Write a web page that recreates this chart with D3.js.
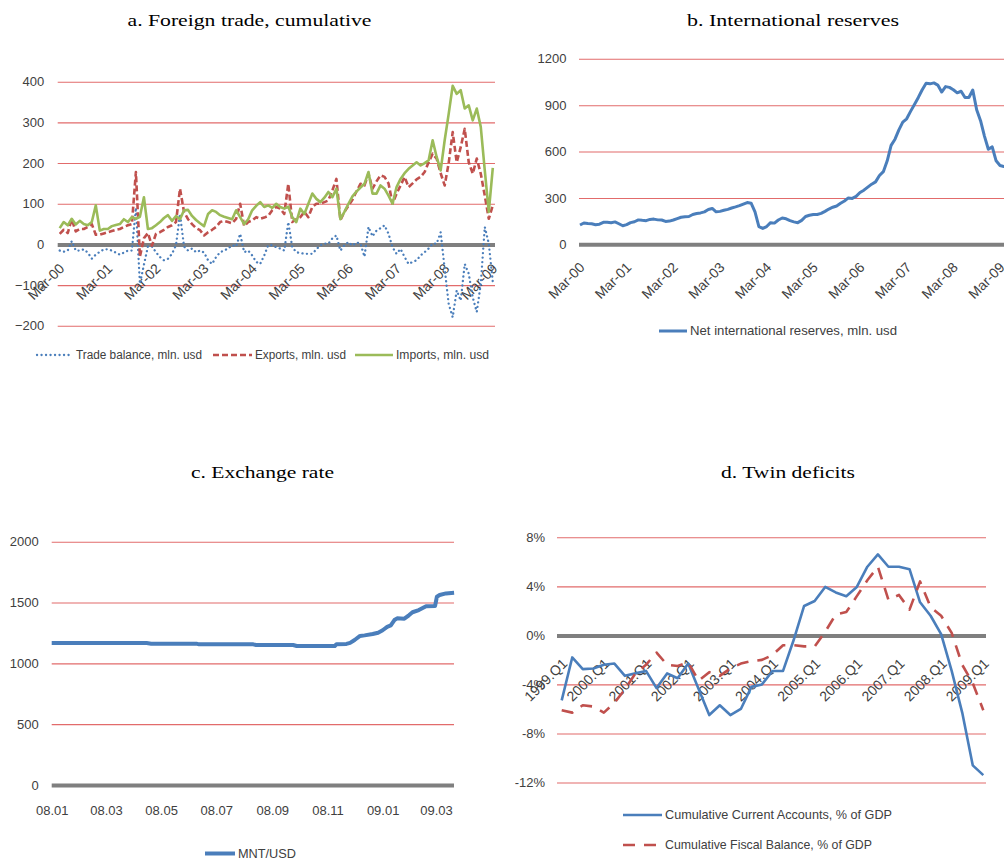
<!DOCTYPE html>
<html>
<head>
<meta charset="utf-8">
<script src="https://cdn.jsdelivr.net/npm/d3@7"></script>
<style>
  html, body { margin: 0; padding: 0; background: #ffffff; }
  svg { display: block; }
</style>
</head>
<body>
<script>
// ---------- data ----------
// a. Foreign trade, monthly Mar-2000 .. Mar-2009 (mln. usd)
const tradeTickLabels = ["Mar-00","Mar-01","Mar-02","Mar-03","Mar-04","Mar-05","Mar-06","Mar-07","Mar-08","Mar-09"];
const tradeBalance = [-15,-18,-15,8,-15,-15,-12,-20,-35,-25,
  -18,-12,-12,-15,-20,-25,-20,-15,-15,90,
  -97,-50,-5,-5,-19,-31,-39,-35,-23,-2,
  75,-5,-15,-10,-19,-15,-20,-39,-48,-31,
  -19,-15,-10,-2,-5,26,-19,-15,-27,-43,
  -48,-27,-2,-2,-7,-10,-15,55,-7,-19,
  -21,-23,-23,-23,-12,-2,2,2,15,22,
  -15,-2,6,-3,5,2,-30,43,20,34,
  40,47,26,-7,-23,-11,-31,-48,-43,-39,
  -27,-19,-10,2,2,30,-60,-146,-179,-113,
  -138,-48,-72,-130,-166,-97,43,2,-92];
const tradeExports = [26,36,28,62,32,38,38,43,50,24,
  24,27,30,33,36,38,43,47,50,178,
  -30,15,28,-3,26,30,36,43,47,55,
  137,80,62,50,40,35,22,30,36,43,
  55,58,55,52,63,100,45,55,59,67,
  63,66,70,84,92,88,75,149,55,62,
  67,80,67,92,100,100,104,108,133,161,
  60,80,95,110,130,149,145,174,137,155,
  170,166,150,100,125,145,166,141,150,160,
  166,178,202,223,211,175,145,200,276,202,
  239,284,202,174,211,174,120,63,96];
const tradeImports = [40,55,47,63,49,58,50,47,55,96,
  34,38,38,45,48,50,62,55,67,63,
  68,116,38,40,47,55,65,72,58,70,
  62,84,85,70,60,52,45,75,84,80,
  72,68,65,62,84,67,50,62,84,95,
  104,92,96,90,100,92,88,93,67,55,
  88,75,100,125,112,104,115,129,116,137,
  62,80,100,118,130,140,149,178,125,125,
  145,137,120,100,141,161,175,186,194,202,
  194,200,207,256,215,182,256,321,390,370,
  379,334,342,305,334,289,182,80,188];

// b. Net international reserves, monthly from Mar-2000 (mln. usd)
const reserves = [125,138,135,133,127,130,142,143,140,145,
  133,120,127,140,146,158,155,153,161,163,
  158,157,148,150,157,166,175,178,180,193,
  199,203,210,225,232,210,213,220,226,235,
  242,250,260,270,266,210,115,103,115,140,
  137,157,170,165,153,145,140,155,180,188,
  193,193,200,213,228,240,248,265,280,300,
  297,310,335,350,370,389,404,445,470,540,
  640,680,740,790,812,860,905,950,1000,1042,
  1038,1044,1030,985,1020,1015,1000,980,990,950,
  950,998,870,800,700,615,630,540,510,503,500];

// c. Exchange rate MNT/USD
const fxDates = ["2008-01-01","2008-04-15","2008-04-20","2008-06-09","2008-06-12","2008-08-11","2008-08-14",
  "2008-09-24","2008-09-28","2008-11-09","2008-11-11","2008-11-22","2008-11-26","2008-12-01","2008-12-07",
  "2008-12-12","2008-12-21","2008-12-27","2009-01-01","2009-01-06","2009-01-10","2009-01-14","2009-01-17",
  "2009-01-25","2009-01-30","2009-02-03","2009-02-10","2009-02-18","2009-02-28","2009-03-02","2009-03-05",
  "2009-03-12","2009-03-21"];
const fxValues = [1167,1167,1162,1162,1156,1156,1151,
  1151,1143,1142,1158,1160,1168,1192,1225,
  1230,1241,1252,1272,1300,1312,1356,1370,
  1367,1395,1420,1438,1470,1472,1548,1562,
  1575,1581];
const fxTickLabels = ["08.01","08.03","08.05","08.07","08.09","08.11","09.01","09.03"];

// d. Twin deficits, quarterly 1999.Q1 .. 2009.Q1 (% of GDP)
const deficitTickLabels = ["1999.Q1","2000.Q1","2001.Q1","2002.Q1","2003.Q1","2004.Q1","2005.Q1","2006.Q1","2007.Q1","2008.Q1","2009.Q1"];
const currentAccount = [-5.3,-1.8,-2.75,-2.7,-2.4,-2.3,-3.3,-3.1,-2.9,-4.3,
  -3.1,-3.5,-2.3,-4.4,-6.5,-5.7,-6.5,-6.0,-4.2,-4.0,
  -2.9,-2.9,-0.4,2.4,2.8,3.95,3.5,3.2,3.95,5.6,
  6.6,5.6,5.6,5.4,2.7,1.6,0.1,-2.9,-6.3,-10.6,-11.4];
const fiscalBalance = [-6.1,-6.3,-5.7,-5.8,-6.3,-5.5,-4.4,-3.1,-2.4,-1.4,
  -2.4,-2.5,-2.2,-3.7,-3.0,-3.3,-2.7,-2.3,-2.1,-2.0,
  -1.6,-0.8,-0.8,-0.9,-0.9,0.3,1.7,1.9,3.2,4.5,
  5.6,2.9,3.3,2.1,4.4,2.3,1.6,0.2,-2.4,-3.9,-6.1];

// ---------- styles ----------
const GRID = "#e26b6b", ZERO = "#7f7f7f", INK = "#404040";
const BLUE = "#4a7ebb", RED = "#c0504d", GREEN = "#9bbb59";
const SANS = '"Liberation Sans", Arial, sans-serif';
const SERIF = '"Liberation Serif", "Times New Roman", serif';
const DOTS = "0.1,4.4", DASH_A = "6,3", DASH_D = "12,9";

const svg = d3.select("body").append("svg").attr("width", 1004).attr("height", 861);

function title(text, cx, y, len) {
  svg.append("text").attr("x", cx).attr("y", y).attr("text-anchor", "middle")
    .attr("font-family", SERIF).attr("font-size", 17).attr("fill", "#000")
    .attr("textLength", len).attr("lengthAdjust", "spacingAndGlyphs").text(text);
}

// value axis with full-width gridlines; the zero line is drawn heavy and grey
function valueAxis(y, ticks, x0, x1, fmt, pad) {
  const g = svg.append("g").attr("transform", `translate(${x0},0)`)
    .call(d3.axisLeft(y).tickValues(ticks).tickFormat(fmt).tickSize(-(x1 - x0)).tickPadding(pad));
  g.select(".domain").remove();
  g.selectAll(".tick line")
    .attr("stroke", d => d === 0 ? ZERO : GRID)
    .attr("stroke-width", d => d === 0 ? 4 : 1.1);
  g.selectAll(".tick text").attr("fill", INK)
    .style("font-family", SANS).style("font-size", "13px");
  return g;
}

// category labels rotated by 45 degrees, hanging below the zero line
function rotatedAxis(x, y0, tickVals, labels, dx, dy) {
  const g = svg.append("g").attr("transform", `translate(0,${y0})`)
    .call(d3.axisBottom(x).tickValues(tickVals).tickFormat((d, i) => labels[i]).tickSize(0));
  g.select(".domain").remove();
  g.selectAll(".tick text")
    .attr("x", null).attr("y", null).attr("dy", null)
    .attr("text-anchor", "end")
    .attr("transform", `translate(${dx},${dy}) rotate(-45)`)
    .attr("fill", INK).style("font-family", SANS).style("font-size", "14px");
}

function series(values, x, y, color, width, dash, cap) {
  svg.append("path").datum(values)
    .attr("fill", "none").attr("stroke", color).attr("stroke-width", width)
    .attr("stroke-linejoin", "round").attr("stroke-linecap", cap || "butt")
    .attr("stroke-dasharray", dash || null)
    .attr("d", d3.line().x((d, i) => x(i)).y(d => y(d)));
}

function legendItem(x1, x2, y, color, width, dash, cap, label, size, len) {
  svg.append("line").attr("x1", x1).attr("x2", x2).attr("y1", y).attr("y2", y)
    .attr("stroke", color).attr("stroke-width", width)
    .attr("stroke-dasharray", dash || null).attr("stroke-linecap", cap || "butt");
  svg.append("text").attr("x", x2 + 3).attr("y", y + 4.3)
    .attr("font-family", SANS).attr("font-size", size).attr("fill", INK)
    .attr("textLength", len).attr("lengthAdjust", "spacingAndGlyphs").text(label);
}

// ---------- a. Foreign trade ----------
{
  title("a. Foreign trade, cumulative", 249.5, 26, 244);
  const x = d3.scaleLinear().domain([0, tradeImports.length - 1]).range([59.7, 492.8]);
  const y = d3.scaleLinear().domain([-200, 400]).range([325.8, 81.7]);
  valueAxis(y, [-200, -100, 0, 100, 200, 300, 400], 57.7, 495, d3.format("d"), 13.5);
  rotatedAxis(x, y(0), tradeTickLabels.map((d, i) => i * 12), tradeTickLabels, 5, 25);
  series(tradeBalance, x, y, BLUE, 2.3, DOTS, "round");
  series(tradeExports, x, y, RED, 2.6, DASH_A);
  series(tradeImports, x, y, GREEN, 2.6);
  legendItem(37, 73, 355, BLUE, 2.3, DOTS, "round", "Trade balance, mln. usd", 12, 126);
  legendItem(213, 252, 355, RED, 2.6, DASH_A, null, "Exports, mln. usd", 12, 91);
  legendItem(355, 393, 355, GREEN, 2.6, null, null, "Imports, mln. usd", 12, 93);
}

// ---------- b. International reserves ----------
{
  title("b. International reserves", 793, 26, 212);
  const x = d3.scaleLinear().domain([0, 108]).range([580, 1000]);
  const y = d3.scaleLinear().domain([0, 1200]).range([244.3, 58.8]);
  valueAxis(y, [0, 300, 600, 900, 1200], 579, 1010, d3.format("d"), 12.5);
  rotatedAxis(x, y(0), tradeTickLabels.map((d, i) => i * 12), tradeTickLabels, 5, 24);
  series(reserves, x, y, BLUE, 3);
  legendItem(659, 687, 331, BLUE, 3, null, null, "Net international reserves, mln. usd", 13, 207);
}

// ---------- c. Exchange rate ----------
{
  title("c. Exchange rate", 262.5, 478, 143);
  const parse = d3.timeParse("%Y-%m-%d");
  const tickParse = d3.timeParse("%y.%m");
  const x = d3.scaleTime().domain([tickParse("08.01"), tickParse("09.03")]).range([51.7, 436]);
  const y = d3.scaleLinear().domain([0, 2000]).range([785, 541.7]);
  valueAxis(y, [0, 500, 1000, 1500, 2000], 51.7, 454, d3.format("d"), 13);
  const ax = svg.append("g").attr("transform", `translate(0,${y(0)})`)
    .call(d3.axisBottom(x).tickValues(fxTickLabels.map(tickParse))
      .tickFormat((d, i) => fxTickLabels[i]).tickSize(0).tickPadding(21));
  ax.select(".domain").remove();
  ax.selectAll(".tick text").attr("fill", INK).style("font-family", SANS).style("font-size", "13px");
  const pts = fxDates.map((d, i) => ({ date: parse(d), value: fxValues[i] }));
  svg.append("path").datum(pts)
    .attr("fill", "none").attr("stroke", BLUE).attr("stroke-width", 4)
    .attr("stroke-linejoin", "round")
    .attr("d", d3.line().x(d => x(d.date)).y(d => y(d.value)));
  legendItem(205, 235, 853.5, BLUE, 4, null, null, "MNT/USD", 13, 58);
}

// ---------- d. Twin deficits ----------
{
  title("d. Twin deficits", 788, 478, 134);
  const x = d3.scaleLinear().domain([0, currentAccount.length - 1]).range([561.7, 983.3]);
  const y = d3.scaleLinear().domain([-12, 8]).range([782.5, 537.3]);
  valueAxis(y, [-12, -8, -4, 0, 4, 8], 557, 986, d => d + "%", 12);
  rotatedAxis(x, y(0), deficitTickLabels.map((d, i) => i * 4), deficitTickLabels, 6, 29);
  series(currentAccount, x, y, BLUE, 2.6);
  series(fiscalBalance, x, y, RED, 2.6, DASH_D);
  legendItem(623, 662, 815, BLUE, 2.6, null, null, "Cumulative Current Accounts, % of GDP", 13, 227);
  legendItem(623, 662, 845, RED, 2.6, DASH_D, null, "Cumulative Fiscal Balance, % of GDP", 13, 207);
}
</script>
</body>
</html>
